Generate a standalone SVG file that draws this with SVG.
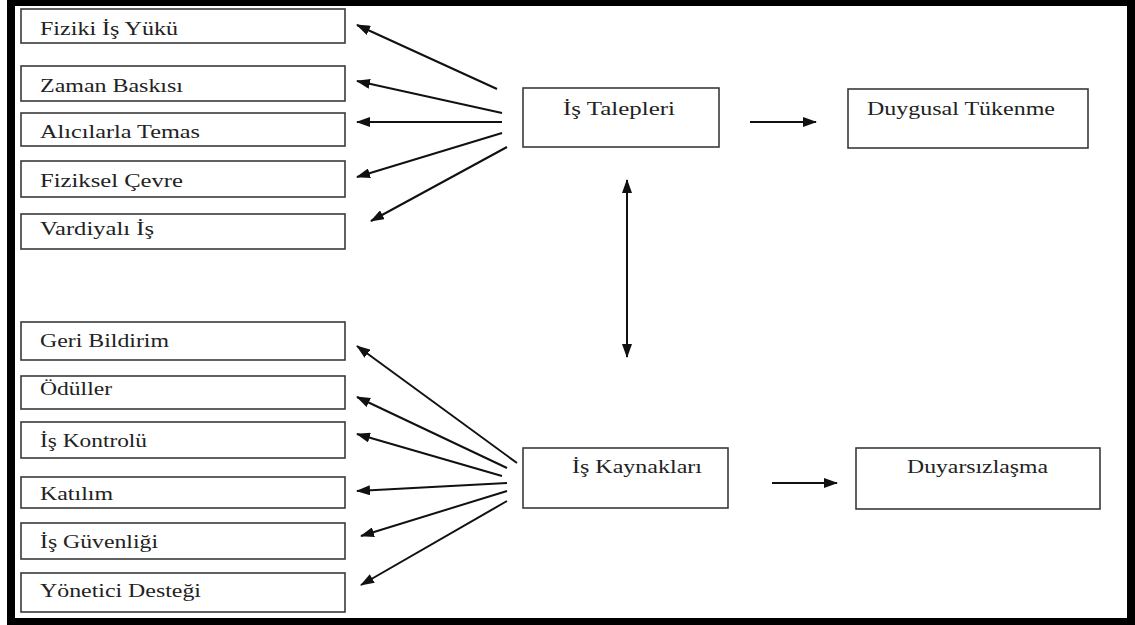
<svg xmlns="http://www.w3.org/2000/svg" width="1135" height="625" viewBox="0 0 1135 625">
  <style>
    .box { fill: #ffffff; stroke: #3a3a3a; stroke-width: 1.6; }
    .lbl { font-family: 'Liberation Serif', 'DejaVu Serif', serif; font-size: 19px; fill: #222222; }
    .conn line { stroke: #111111; stroke-width: 2; fill: none; }
  </style>
  <defs>
    <marker id="head" markerUnits="userSpaceOnUse" markerWidth="14" markerHeight="10" viewBox="0 0 14 10" refX="13" refY="5" orient="auto-start-reverse">
      <path d="M0,0 L14,5 L0,10 z" fill="#111111"/>
    </marker>
  </defs>

  <rect x="0" y="0" width="1135" height="625" fill="#ffffff"/>
  <!-- outer frame -->
  <rect x="11" y="2" width="1120" height="620" fill="none" stroke="#000000" stroke-width="8"/>

  <!-- job demands (labels are set slightly wide) -->
  <g id="fiziki-is-yuku"><rect class="box" x="21" y="9" width="324" height="34"/><text class="lbl" x="40" y="35" textLength="138" lengthAdjust="spacingAndGlyphs">Fiziki İş Yükü</text></g>
  <g id="zaman-baskisi"><rect class="box" x="21" y="66" width="324" height="35"/><text class="lbl" x="40" y="92" textLength="143" lengthAdjust="spacingAndGlyphs">Zaman Baskısı</text></g>
  <g id="alicilarla-temas"><rect class="box" x="21" y="113" width="324" height="33"/><text class="lbl" x="40" y="138" textLength="160" lengthAdjust="spacingAndGlyphs">Alıcılarla Temas</text></g>
  <g id="fiziksel-cevre"><rect class="box" x="21" y="161" width="324" height="36"/><text class="lbl" x="40" y="187" textLength="143" lengthAdjust="spacingAndGlyphs">Fiziksel Çevre</text></g>
  <g id="vardiyali-is"><rect class="box" x="21" y="214" width="324" height="35"/><text class="lbl" x="40" y="235" textLength="114" lengthAdjust="spacingAndGlyphs">Vardiyalı İş</text></g>

  <!-- job resources -->
  <g id="geri-bildirim"><rect class="box" x="21" y="322" width="324" height="38"/><text class="lbl" x="40" y="347" textLength="129" lengthAdjust="spacingAndGlyphs">Geri Bildirim</text></g>
  <g id="oduller"><rect class="box" x="21" y="376" width="324" height="33"/><text class="lbl" x="40" y="395" textLength="72" lengthAdjust="spacingAndGlyphs">Ödüller</text></g>
  <g id="is-kontrolu"><rect class="box" x="21" y="422" width="324" height="36"/><text class="lbl" x="40" y="447" textLength="107" lengthAdjust="spacingAndGlyphs">İş Kontrolü</text></g>
  <g id="katilim"><rect class="box" x="21" y="477" width="324" height="31"/><text class="lbl" x="40" y="500" textLength="73" lengthAdjust="spacingAndGlyphs">Katılım</text></g>
  <g id="is-guvenligi"><rect class="box" x="21" y="523" width="324" height="36"/><text class="lbl" x="40" y="548" textLength="118" lengthAdjust="spacingAndGlyphs">İş Güvenliği</text></g>
  <g id="yonetici-destegi"><rect class="box" x="21" y="573" width="324" height="39"/><text class="lbl" x="40" y="597" textLength="161" lengthAdjust="spacingAndGlyphs">Yönetici Desteği</text></g>

  <!-- central and outcome nodes -->
  <g id="is-talepleri"><rect class="box" x="523" y="88" width="196" height="59"/><text class="lbl" x="563" y="115" textLength="112" lengthAdjust="spacingAndGlyphs">İş Talepleri</text></g>
  <g id="duygusal-tukenme"><rect class="box" x="848" y="89" width="240" height="59"/><text class="lbl" x="867" y="115" textLength="188" lengthAdjust="spacingAndGlyphs">Duygusal Tükenme</text></g>
  <g id="is-kaynaklari"><rect class="box" x="523" y="448" width="205" height="60"/><text class="lbl" x="572" y="473" textLength="130" lengthAdjust="spacingAndGlyphs">İş Kaynakları</text></g>
  <g id="duyarsizlasma"><rect class="box" x="856" y="448" width="244" height="61"/><text class="lbl" x="907" y="473" textLength="141" lengthAdjust="spacingAndGlyphs">Duyarsızlaşma</text></g>

  <g id="connectors" class="conn">
    <!-- demands fan -->
    <line x1="497" y1="89" x2="357" y2="25" marker-end="url(#head)"/>
    <line x1="502" y1="113" x2="357" y2="81" marker-end="url(#head)"/>
    <line x1="502" y1="122" x2="357" y2="122" marker-end="url(#head)"/>
    <line x1="502" y1="133" x2="357" y2="177" marker-end="url(#head)"/>
    <line x1="507" y1="147" x2="371" y2="221" marker-end="url(#head)"/>
    <!-- resources fan -->
    <line x1="517" y1="463" x2="357" y2="346" marker-end="url(#head)"/>
    <line x1="507" y1="468" x2="357" y2="397" marker-end="url(#head)"/>
    <line x1="502" y1="476" x2="357" y2="434" marker-end="url(#head)"/>
    <line x1="507" y1="483" x2="357" y2="491" marker-end="url(#head)"/>
    <line x1="507" y1="491" x2="361" y2="536" marker-end="url(#head)"/>
    <line x1="507" y1="501" x2="361" y2="585" marker-end="url(#head)"/>
    <!-- demands / resources link -->
    <line x1="627" y1="180" x2="627" y2="357" marker-start="url(#head)" marker-end="url(#head)"/>
    <!-- outcomes -->
    <line x1="750" y1="122" x2="816" y2="122" marker-end="url(#head)"/>
    <line x1="772" y1="483" x2="837" y2="483" marker-end="url(#head)"/>
  </g>
</svg>
